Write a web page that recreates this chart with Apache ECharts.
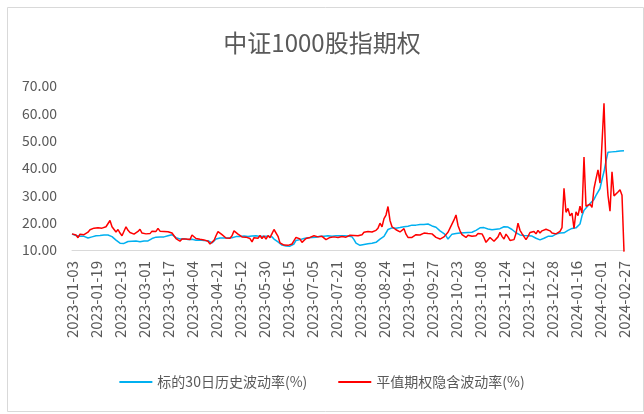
<!DOCTYPE html>
<html>
<head>
<meta charset="utf-8">
<script src="https://cdn.jsdelivr.net/npm/echarts@6/dist/echarts.min.js"></script>
<style>
    html, body { margin: 0; padding: 0; background: #fff; }
    #chart { width: 644px; height: 414px; }
</style>
</head>
<body>
<div id="chart"></div>
<script>
// 交易日：工作日去掉休市日
const START = '2023-01-03'
const END = '2024-02-27'
const HOLIDAYS = [
    '2023-01-02', '2023-01-23', '2023-01-24', '2023-01-25', '2023-01-26', '2023-01-27',
    '2023-04-05', '2023-05-01', '2023-05-02', '2023-05-03', '2023-06-22', '2023-06-23',
    '2023-09-29', '2023-10-02', '2023-10-03', '2023-10-04', '2023-10-05', '2023-10-06',
    '2024-01-01', '2024-02-09', '2024-02-12', '2024-02-13', '2024-02-14', '2024-02-15', '2024-02-16'
]

// 标的30日历史波动率(%)
const histVol = [
    15.8, 15.5, 15.3, 15.2, 15.0, 15.1, 15.0, 14.6, 14.4, 14.5,
    14.8, 15.1, 15.2, 15.3, 15.3, 15.4, 15.5, 15.6, 15.5, 15.4,
    14.9, 14.3, 13.6, 13.0, 12.5, 12.2, 12.4, 12.8, 13.1, 13.0,
    13.2, 13.1, 13.3, 13.2, 13.0, 13.2, 13.3, 13.4, 13.3, 13.6,
    14.2, 14.5, 14.7, 14.6, 14.8, 15.0, 14.8, 15.0, 15.2, 15.0,
    15.6, 15.0, 14.5, 14.2, 14.0, 14.3, 14.1, 14.0, 13.8, 14.0,
    13.9, 13.7, 13.6, 13.8, 13.7, 13.6, 13.5, 13.7, 13.4, 13.0,
    12.6, 13.3, 14.0, 14.3, 14.4, 14.3, 14.4, 14.5, 14.4, 14.3,
    14.5, 14.8, 14.9, 15.0, 14.9, 15.0, 15.1, 15.0, 14.9, 15.0,
    15.1, 15.0, 15.2, 15.0, 14.9, 15.1, 15.0, 15.1, 15.0, 15.2,
    14.8, 14.0, 13.5, 13.0, 12.4, 11.8, 11.6, 11.5, 11.6, 11.4,
    11.0, 12.2, 13.5, 13.7, 13.8, 14.0, 14.2, 14.3, 14.5, 14.4,
    14.6, 14.5, 14.7, 14.8, 15.0, 15.1, 15.0, 15.1, 15.2, 15.1,
    15.0, 15.1, 15.2, 15.3, 15.2, 15.1, 15.2, 15.3, 15.1, 15.0,
    14.8, 13.8, 12.5, 11.9, 11.7, 11.8, 12.0, 12.2, 12.3, 12.4,
    12.5, 12.6, 12.8, 13.4, 14.0, 14.5, 15.0, 15.5, 17.5, 18.0,
    18.1, 18.2, 18.0, 18.3, 18.2, 18.4, 18.5, 18.6, 18.7, 19.0,
    19.1, 19.2, 19.1, 19.2, 19.3, 19.2, 19.3, 19.5, 19.5, 19.2,
    18.8, 18.5, 18.3, 17.8, 17.0, 16.4, 16.0, 15.2, 14.0, 13.7,
    15.8, 16.1, 16.0, 16.1, 16.2, 16.1, 16.3, 16.5, 16.4, 16.6,
    16.5, 16.7, 17.2, 17.8, 18.1, 18.2, 18.2, 18.1, 17.7, 17.5,
    17.4, 17.5, 17.6, 17.5, 17.8, 18.2, 18.5, 18.5, 18.4, 18.3,
    17.5, 16.8, 16.3, 15.8, 15.5, 15.4, 15.3, 15.3, 15.2, 15.3,
    15.1, 14.9, 14.3, 13.9, 13.7, 13.8, 14.3, 14.8, 15.0, 15.1,
    15.0, 15.2, 15.8, 16.1, 16.2, 16.2, 16.3, 16.5, 17.2, 17.8,
    17.9, 18.0, 18.1, 18.3, 19.5, 22.5, 24.5, 25.2, 26.2, 27.0,
    27.2, 28.5, 30.0, 30.7, 32.5, 35.8, 38.7, 42.5, 45.8, 46.0,
    45.9, 46.0, 46.0, 46.1, 46.2, 46.3, 46.3
]

// 平值期权隐含波动率(%)
const impliedVol = [
    15.9, 16.3, 15.5, 14.5, 15.8, 16.0, 15.6, 15.3, 16.5, 17.4,
    17.2, 18.0, 17.6, 18.1, 17.8, 18.0, 18.3, 18.5, 19.2, 20.8,
    18.5, 17.8, 16.6, 17.5, 16.2, 15.2, 15.5, 18.5, 17.2, 16.4,
    16.0, 15.8, 16.3, 16.8, 17.6, 16.2, 15.6, 15.9, 15.6, 16.0,
    16.9, 16.5, 16.8, 17.9, 16.9, 17.5, 16.8, 17.3, 16.7, 16.5,
    16.2, 15.2, 14.2, 13.5, 13.2, 14.0, 13.6, 14.0, 13.3, 13.8,
    15.5, 14.8, 14.2, 14.5, 13.9, 13.8, 13.7, 13.6, 13.2, 12.2,
    11.9, 13.5, 15.2, 16.7, 16.4, 15.6, 15.0, 14.4, 14.6, 14.3,
    15.2, 17.0, 16.6, 15.8, 15.9, 14.8, 14.4, 14.7, 14.5, 14.2,
    13.0, 14.5, 15.2, 14.3, 15.3, 14.2, 15.1, 14.0, 15.3, 14.5,
    16.0, 17.5, 17.4, 15.0, 12.6, 12.0, 11.8, 11.5, 11.7, 11.5,
    12.2, 13.4, 14.6, 14.2, 14.0, 12.8, 13.5, 14.2, 14.4, 14.6,
    15.0, 15.2, 15.0, 14.8, 14.6, 15.0, 14.5, 13.8, 14.0, 14.6,
    15.1, 14.8, 15.0, 14.6, 15.3, 14.9, 15.2, 14.7, 15.0, 15.4,
    16.0, 15.3, 14.8, 15.2, 15.0, 15.6, 16.5, 16.2, 16.8, 17.0,
    16.6, 17.3, 17.2, 18.0, 19.8, 18.5, 21.5, 22.8, 25.9, 20.8,
    18.5, 17.8, 17.4, 17.0, 16.6, 17.0, 17.8, 15.8, 14.6, 14.3,
    14.6, 15.0, 15.6, 15.3, 15.5, 15.8, 16.2, 15.6, 16.0, 15.7,
    15.9, 15.4, 14.6, 14.3, 14.0, 14.4, 14.8, 15.5, 16.5, 18.0,
    18.5, 21.0, 22.8, 19.0, 17.0, 15.6, 15.0, 14.6, 15.4, 15.8,
    15.0, 14.8, 15.2, 16.0, 15.6, 15.9, 14.5, 12.8, 13.2, 14.6,
    15.2, 13.2, 12.6, 14.8, 16.5, 15.0, 14.0, 15.8, 14.8, 13.5,
    12.8, 13.8, 16.0, 19.8, 17.2, 16.0, 16.4, 13.8, 15.0, 16.4,
    15.8, 16.8, 15.9, 17.2, 16.2, 17.0, 16.4, 17.6, 18.0, 17.0,
    16.2, 16.0, 15.9, 16.1, 16.8, 18.2, 32.6, 23.8, 25.2, 22.5,
    23.5, 17.9, 24.0, 22.6, 26.0, 23.5, 44.0, 26.0, 25.8, 26.8,
    25.6, 32.5, 36.0, 39.3, 34.5, 35.0, 63.7, 40.0, 30.0, 24.2,
    38.6, 29.8, 30.4, 31.2, 32.0, 30.0, 9.4
]

const SERIES_NAMES = ['标的30日历史波动率(%)', '平值期权隐含波动率(%)']
const COLORS = ['#00B0F0', '#FF0000']
const TEXT_COLOR = '#595959'
const FONT = '"Noto Sans CJK SC", "Noto Sans", sans-serif'

function tradingDays(start, end, holidays) {
    const days = []
    const d = new Date(start + 'T00:00:00Z')
    const last = new Date(end + 'T00:00:00Z')
    while (d <= last) {
        const s = d.toISOString().slice(0, 10)
        const wd = d.getUTCDay()
        if (wd !== 0 && wd !== 6 && !holidays.includes(s)) days.push(s)
        d.setUTCDate(d.getUTCDate() + 1)
    }
    return days
}

const dates = tradingDays(START, END, HOLIDAYS)

const myChart = echarts.init(document.getElementById('chart'))

const option = {
    animation: false,
    backgroundColor: '#fff',
    textStyle: { fontFamily: FONT },
    title: {
        text: '中证1000股指期权',
        left: 'center',
        top: 26,
        textStyle: { fontSize: 24, fontWeight: 'normal', color: TEXT_COLOR, fontFamily: FONT }
    },
    // 外框
    graphic: [{
        type: 'rect',
        shape: { x: 7.5, y: 7.5, width: 636, height: 404 },
        style: { fill: 'none', stroke: '#d9d9d9', lineWidth: 1 },
        silent: true
    }],
    legend: {
        bottom: 20,
        left: 'center',
        icon: 'rect',
        itemWidth: 33,
        itemHeight: 2,
        itemGap: 31,
        textStyle: { fontSize: 14, color: TEXT_COLOR, fontFamily: FONT },
        data: SERIES_NAMES
    },
    grid: { left: 72, right: 20, top: 86, bottom: 164 },
    xAxis: {
        type: 'category',
        data: dates,
        boundaryGap: false,
        axisLine: { lineStyle: { color: '#d9d9d9', width: 1 } },
        axisTick: { show: false },
        axisLabel: {
            interval: 11,
            rotate: 90,
            margin: 11,
            fontSize: 15,
            color: TEXT_COLOR,
            fontFamily: FONT
        },
        splitLine: { show: false }
    },
    yAxis: {
        type: 'value',
        min: 10,
        max: 70,
        interval: 10,
        axisLine: { show: false },
        axisTick: { show: false },
        splitLine: { show: false },
        axisLabel: {
            margin: 15,
            fontSize: 14,
            color: TEXT_COLOR,
            fontFamily: FONT,
            formatter: v => v.toFixed(2)
        }
    },
    series: [histVol, impliedVol].map((data, index) => ({
        name: SERIES_NAMES[index],
        type: 'line',
        data: data,
        symbol: 'none',
        clip: false,
        itemStyle: { color: COLORS[index] },
        lineStyle: { color: COLORS[index], width: 1.5 }
    }))
}

myChart.setOption(option)
</script>
</body>
</html>
